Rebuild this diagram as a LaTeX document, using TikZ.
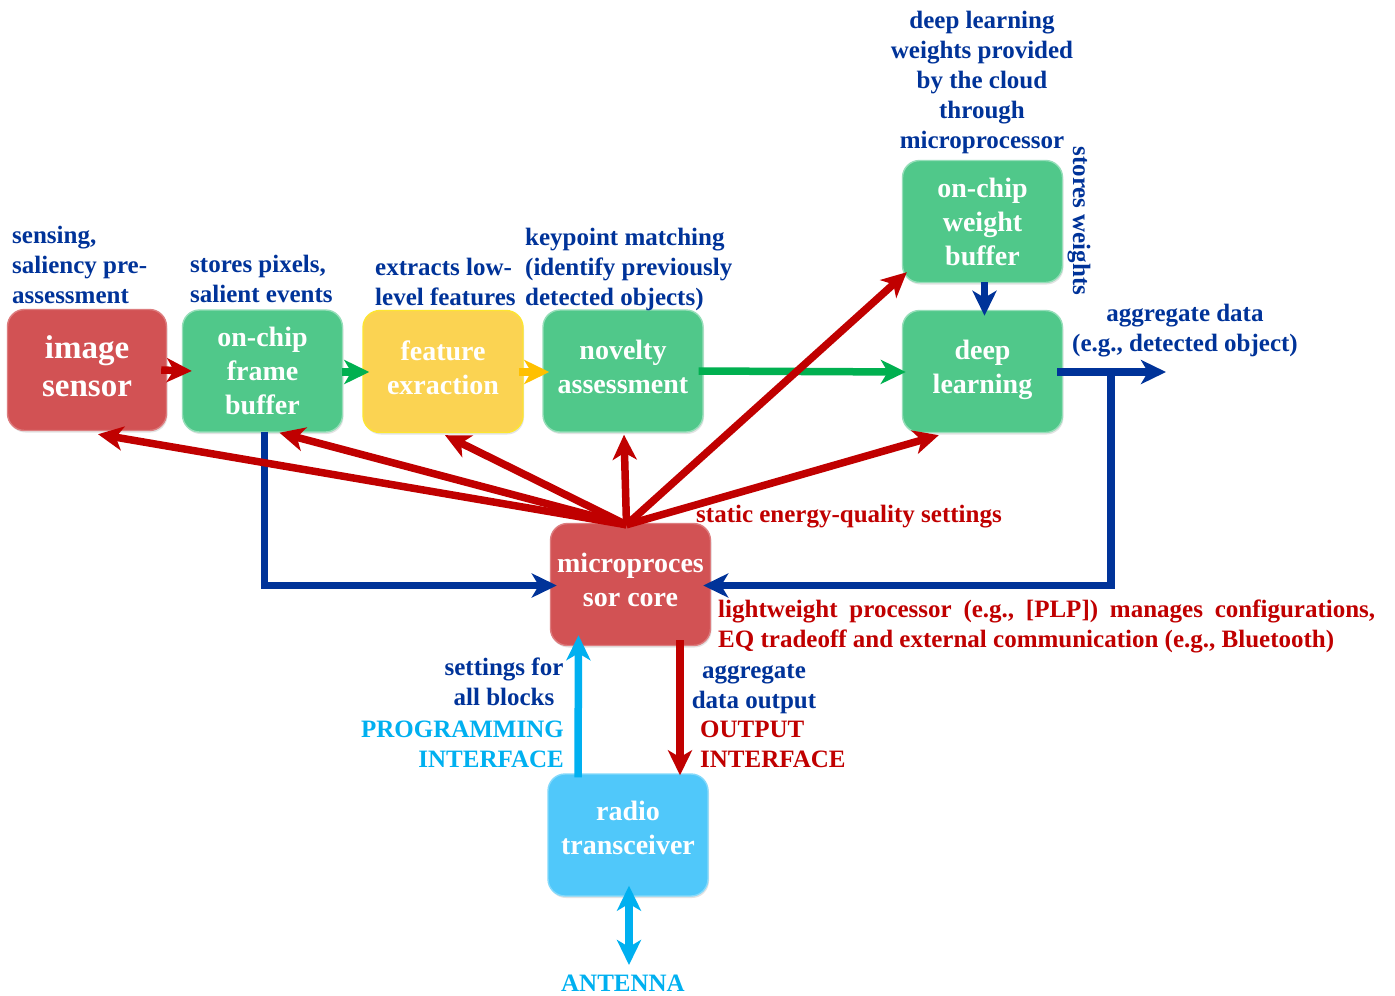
\documentclass[tikz,border=0pt]{standalone}
\usepackage{fontspec}
\setmainfont{Liberation Serif}
\usetikzlibrary{arrows.meta,calc,shadows}

\definecolor{boxred}{RGB}{210,82,84}
\definecolor{boxgreen}{RGB}{80,200,138}
\definecolor{boxyellow}{RGB}{251,211,82}
\definecolor{boxcyan}{RGB}{80,200,250}
\definecolor{txtblue}{RGB}{0,51,153}
\definecolor{arrred}{RGB}{192,0,0}
\definecolor{arrgreen}{RGB}{0,176,80}
\definecolor{arryellow}{RGB}{255,192,0}
\definecolor{arrcyan}{RGB}{0,176,240}

\tikzset{
  block/.style={rounded corners=17pt, minimum width=160pt, minimum height=122pt,
    inner sep=0pt, line width=1.4pt,
    drop shadow={shadow xshift=1pt, shadow yshift=-2pt, opacity=0.22}},
  redblock/.style={block, fill=boxred, draw=boxred!75!white},
  greenblock/.style={block, fill=boxgreen, draw=boxgreen!60!white},
  yellowblock/.style={block, fill=boxyellow, draw=boxyellow!60!yellow},
  cyanblock/.style={block, fill=boxcyan, draw=boxcyan!70!white},
  boxtext/.style={inner sep=0pt, align=center, text=white,
    font=\bfseries\fontsize{28}{34}\selectfont},
  note/.style={inner sep=0pt, font=\bfseries\fontsize{25}{30}\selectfont},
  bluenote/.style={note, text=txtblue},
  rednote/.style={note, text=arrred},
  cyannote/.style={note, text=arrcyan},
  tip/.style={-{Stealth[length=25pt,width=24pt,inset=7pt]}},
  redlink/.style={tip, draw=arrred, line width=7.5pt},
  greenlink/.style={tip, draw=arrgreen, line width=7.5pt},
  yellowlink/.style={tip, draw=arryellow, line width=7.5pt},
  bluelink/.style={draw=txtblue, line width=7.5pt},
  cyanlink/.style={draw=arrcyan, line width=7.5pt},
}

\begin{document}
\begin{tikzpicture}[x=1pt, y=-1pt]
\useasboundingbox[fill=white] (0,0) rectangle (1395,996);

% processing blocks
\node[redblock, minimum width=159pt, minimum height=121pt] (img) at (87,370) {};
\node[greenblock]  (fb)  at (262.5,371) {};
\node[yellowblock] (fe)  at (443,371.5) {};
\node[greenblock]  (nov) at (623,371) {};
\node[greenblock]  (wb)  at (982.5,221.5) {};
\node[greenblock]  (dl)  at (982.5,371.5) {};
\node[redblock]    (mp)  at (630.5,584.5) {};
\node[cyanblock]   (rt)  at (628,835) {};

% block titles
\node[boxtext, font=\bfseries\fontsize{33}{38}\selectfont] (img-t) at ([yshift=4pt]img.center) {image\\sensor};
\node[boxtext] (fb-t)  at (fb.center) {on-chip\\frame\\buffer};
\node[boxtext] (fe-t)  at ([yshift=4pt]fe.center) {feature\\exraction};
\node[boxtext] (nov-t) at ([yshift=4pt]nov.center) {novelty\\assessment};
\node[boxtext] (wb-t)  at (wb.center) {on-chip\\weight\\buffer};
\node[boxtext] (dl-t)  at ([yshift=2pt]dl.center) {deep\\learning};
\node[boxtext] (mp-t)  at ([yshift=5pt]mp.center) {microproces\\sor core};
\node[boxtext] (rt-t)  at ([yshift=7pt]rt.center) {radio\\transceiver};

% annotations
\node[bluenote, anchor=north west, align=left] (n1) at (12,226)
  {sensing,\\saliency pre-\\assessment};
\node[bluenote, anchor=north west, align=left] (n2) at (190,255)
  {stores pixels,\\salient events};
\node[bluenote, anchor=north west, align=left] (n3) at (375,258)
  {extracts low-\\level features};
\node[bluenote, anchor=north west, align=left] (n4) at (525,228)
  {keypoint matching\\(identify previously\\detected objects)};
\node[bluenote, anchor=north, align=center] (n5) at (982,11)
  {deep learning\\weights provided\\by the cloud\\through\\microprocessor};
\node[bluenote, rotate=-90] (n6) at (1079,221) {stores weights};
\node[bluenote, anchor=north, align=center] (n7) at (1185,304)
  {aggregate data\\(e.g., detected object)};
\node[rednote, anchor=north west] (n8) at (696,505) {static energy-quality settings};
\node[rednote, anchor=north west, align=left] (n9) at (718,600)
  {\makebox[657pt][l]{lightweight\hfill processor\hfill (e.g.,\hfill [PLP])\hfill manages\hfill configurations,}\\
   EQ tradeoff and external communication (e.g., Bluetooth)};
\node[bluenote, anchor=north, align=center] (n10) at (504,658) {settings for\\all blocks};
\node[cyannote, anchor=north east, align=right] (n11) at (564,721) {PROGRAMMING\\INTERFACE};
\node[bluenote, anchor=north, align=center] (n12) at (754,664) {aggregate\\data output};
\node[rednote, anchor=north west, align=left] (n13) at (700,721) {OUTPUT\\INTERFACE};
\node[cyannote, anchor=north] (ant) at (623,975) {ANTENNA};

% data path along the pipeline
\draw[redlink]    ($(img.east)+(-6,0)$) -- ($(fb.west)+(10,0)$);
\draw[greenlink]  ($(fb.east)+(-1,1)$) -- ($(fe.west)+(7,0.5)$);
\draw[yellowlink] ($(fe.east)+(-5,0.5)$) -- ($(nov.west)+(7,1)$);
\draw[greenlink]  ($(nov.east)+(-5,0)$) -- ($(dl.west)+(4,0.5)$);
\draw[bluelink, tip] ($(wb.south)+(2,-1)$) -- ($(dl.north)+(2,6)$);

% aggregate output and feedback to the core
\coordinate (aggout) at (1166,372);
\coordinate (branch) at (1111,368);
\draw[bluelink, tip] ($(dl.east)+(-6,0.5)$) -- (aggout);
\draw[bluelink, tip] (branch) |- ($(mp.east)+(-8,1)$);
\draw[bluelink, tip] ($(fb.south)+(2,-1)$) |- ($(mp.west)+(7,1)$);

% static energy-quality settings fanned out from the core
\coordinate (fan) at ($(mp.north)+(-4,2)$);
\draw[redlink] (fan) -- ($(img.south)+(11,3)$);
\draw[redlink] (fan) -- ($(fb.south)+(17,0)$);
\draw[redlink] (fan) -- ($(fe.south)+(2,2)$);
\draw[redlink] (fan) -- ($(nov.south)+(1,2)$);
\draw[redlink] (fan) -- ($(wb.south west)+(5,-11)$);
\draw[redlink] (fan) -- ($(dl.south west)+(37,2)$);

% radio interfaces
\draw[cyanlink, tip] ($(rt.north)+(-50,4)$) -- ($(mp.south)+(-52,-11)$);
\draw[redlink] ($(mp.south)+(49.5,-6)$) -- ($(rt.north)+(52,2)$);
\draw[cyanlink, {Stealth[length=25pt,width=24pt,inset=7pt]}-{Stealth[length=25pt,width=24pt,inset=7pt]}]
  ($(rt.south)+(1,-11)$) -- ($(ant.north)+(6,-10)$);
\end{tikzpicture}
\end{document}
